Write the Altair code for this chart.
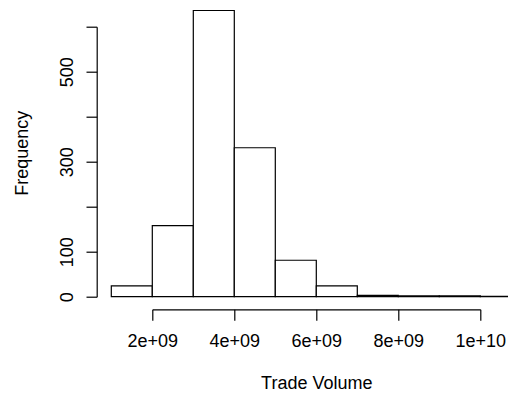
import pandas as pd
import altair as alt

# histogram bins (trade volume) and counts
bin_start = [1e9, 2e9, 3e9, 4e9, 5e9, 6e9, 7e9, 8e9, 9e9, 10e9]
bin_end = [2e9, 3e9, 4e9, 5e9, 6e9, 7e9, 8e9, 9e9, 10e9, 11e9]
counts = [24, 158, 636, 331, 81, 24, 3, 2, 2, 1]

x_ticks = [2e9, 4e9, 6e9, 8e9, 1e10]
x_tick_labels = ["2e+09", "4e+09", "6e+09", "8e+09", "1e+10"]
y_ticks = [0, 100, 200, 300, 400, 500, 600]
y_tick_labels = ["0", "100", "", "300", "", "500", ""]

hist = pd.DataFrame({"start": bin_start, "end": bin_end, "count": counts})


def label_expr(values, labels):
    parts = [f"datum.value == {v} ? '{t}'" for v, t in zip(values, labels)]
    return " : ".join(parts) + " : ''"


FONT = "Liberation Sans"

bars = (
    alt.Chart(hist)
    .mark_rect(fill="white", stroke="black", strokeWidth=1.2)
    .encode(
        x=alt.X("start:Q")
        .scale(domain=[2e9, 1e10], nice=False, zero=False)
        .axis(
            values=x_ticks,
            labelExpr=label_expr(x_ticks, x_tick_labels),
            offset=12.6,
            tickSize=11,
            labelPadding=12,
            titlePadding=24,
            labelFlush=False,
            labelOverlap=False,
        )
        .title("Trade Volume"),
        x2="end:Q",
        y=alt.Y("count:Q")
        .scale(domain=[0, 600], nice=False)
        .axis(
            values=y_ticks,
            labelExpr=label_expr(y_ticks, y_tick_labels),
            offset=55.6,
            tickSize=10.7,
            labelAngle=-90,
            labelAlign="center",
            labelBaseline="alphabetic",
            labelPadding=14,
            titlePadding=27,
            titleY=126,
            labelFlush=False,
            labelOverlap=False,
        )
        .title("Frequency"),
        y2=alt.datum(0),
    )
)

chart = (
    bars.properties(
        width=328,
        height=270,
        autosize=alt.AutoSizeParams(type="none"),
        padding={"left": 144.3, "top": 18.7, "right": 27.7, "bottom": 95.3},
        background="white",
    )
    .configure_view(stroke=None)
    .configure_axis(
        grid=False,
        domainColor="black",
        domainWidth=1.2,
        tickColor="black",
        tickWidth=1.2,
        labelColor="black",
        labelFont=FONT,
        labelFontSize=18,
        titleColor="black",
        titleFont=FONT,
        titleFontSize=18,
        titleFontWeight="normal",
    )
)

chart.save("out.html", embed_options={"renderer": "svg", "actions": False})
